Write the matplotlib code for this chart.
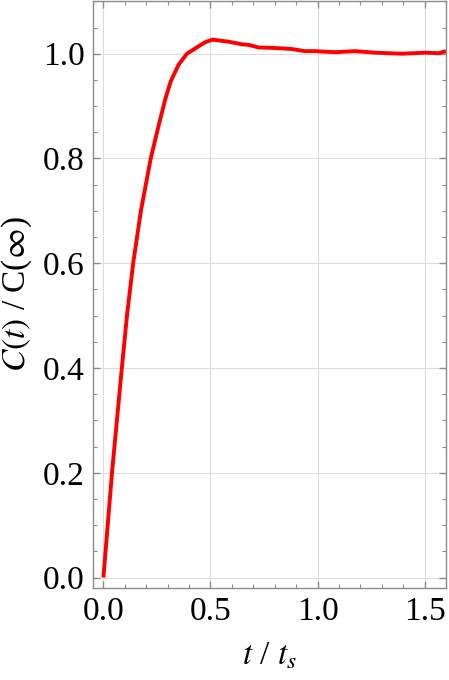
import numpy as np
import matplotlib
matplotlib.use("Agg")
import matplotlib.pyplot as plt
from matplotlib.ticker import MultipleLocator, FormatStrFormatter

# values
t_ts = [0.0, 0.040, 0.086, 0.110, 0.139, 0.175, 0.221, 0.252, 0.288, 0.315,
        0.351, 0.390, 0.436, 0.475, 0.510, 0.545, 0.584, 0.647, 0.678, 0.724,
        0.800, 0.880, 0.940, 0.990, 1.030, 1.083, 1.176, 1.270, 1.394, 1.503,
        1.566, 1.600]
c_ratio = [0.0, 0.200, 0.400, 0.500, 0.600, 0.700, 0.800, 0.853, 0.912, 0.948,
           0.979, 1.000, 1.012, 1.022, 1.027, 1.025, 1.023, 1.018, 1.017, 1.012,
           1.011, 1.009, 1.005, 1.005, 1.004, 1.003, 1.005, 1.002, 1.000, 1.002,
           1.001, 1.005]

plt.rcParams['font.family'] = ['Liberation Serif', 'DejaVu Serif']
plt.rcParams['mathtext.fontset'] = 'stix'

fig = plt.figure(figsize=(4.49, 6.8), dpi=100)
ax = fig.add_axes([0.2065, 0.1353, 0.7868, 0.8627])

ax.plot(t_ts, c_ratio, color='#ff0000', lw=2.8, solid_joinstyle='round',
        solid_capstyle='butt', zorder=3)

ax.set_xlim(-0.05, 1.6)
ax.set_ylim(-0.02, 1.1)

ax.xaxis.set_major_locator(MultipleLocator(0.5))
ax.xaxis.set_minor_locator(MultipleLocator(0.1))
ax.yaxis.set_major_locator(MultipleLocator(0.2))
ax.yaxis.set_minor_locator(MultipleLocator(0.05))
ax.xaxis.set_major_formatter(FormatStrFormatter('%.1f'))
ax.yaxis.set_major_formatter(FormatStrFormatter('%.1f'))

ax.grid(True, which='major', color='#dcdcdc', lw=0.8)
ax.set_axisbelow(True)

for s in ax.spines.values():
    s.set_color('#8c8c8c')
    s.set_linewidth(1.0)

ax.tick_params(which='both', direction='in', top=True, right=True,
               color='#8c8c8c', labelsize=24, labelcolor='black')
ax.tick_params(which='major', length=5, width=1.0, pad=6)
ax.tick_params(which='minor', length=3, width=0.8)

ax.set_xlabel(r'$t$ / $t_s$', fontsize=24, labelpad=10)
ax.set_ylabel(r'$C(t)$ / C($\infty$)', fontsize=24, labelpad=6)

fig.savefig('out.png', dpi=100)
